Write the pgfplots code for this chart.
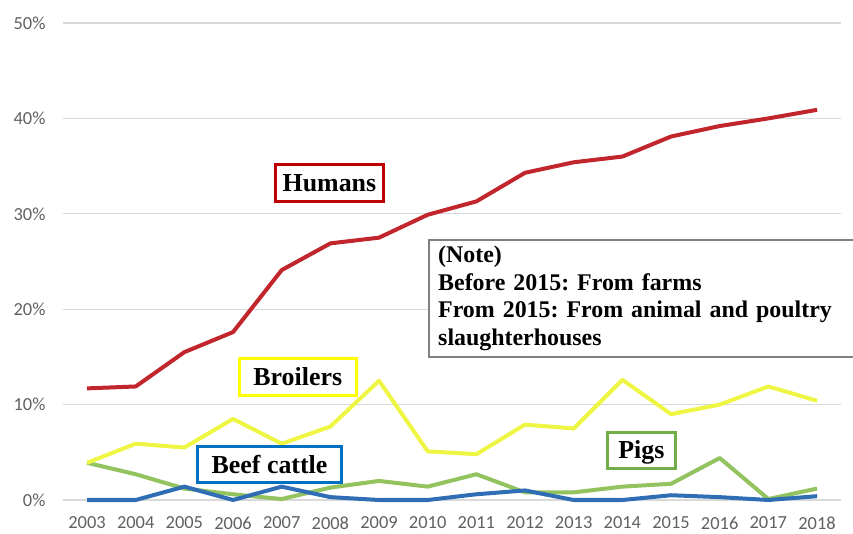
\documentclass[border=0pt]{standalone}
\usepackage{fontspec}
\setmainfont{Liberation Serif}
\newfontfamily\calibri{Carlito}
\usepackage{pgfplots}
\pgfplotsset{compat=1.18}
\definecolor{cHum}{HTML}{C0262B}
\definecolor{cBro}{HTML}{EEF542}
\definecolor{cPig}{HTML}{92C35F}
\definecolor{cBeef}{HTML}{2F6EB5}
\definecolor{bHum}{HTML}{C00000}
\definecolor{bBro}{HTML}{FFFF00}
\definecolor{bBeef}{HTML}{0070C0}
\definecolor{bPig}{HTML}{70AD47}
\definecolor{bNote}{HTML}{808080}
\definecolor{gridc}{HTML}{D9D9D9}
\definecolor{tickc}{HTML}{606060}
\frenchspacing
\begin{document}
\begin{tikzpicture}
\useasboundingbox (-62.7bp,-34bp) rectangle (790.3bp,500bp);
\begin{axis}[
  at={(0,0)}, anchor=south west,
  scale only axis, width=778.7bp, height=477bp,
  xmin=2002.5, xmax=2018.5, ymin=0, ymax=50,
  xtick={2003,2004,...,2018},
  xticklabels={2003,2004,2005,2006,2007,2008,2009,2010,2011,2012,2013,2014,2015,2016,2017,2018},
  ytick={0,10,20,30,40,50},
  yticklabels={0\%,10\%,20\%,30\%,40\%,50\%},
  /pgf/number format/assume math mode=true,
  ticklabel style={font=\calibri\fontsize{18.5}{20}\selectfont, text=tickc, inner sep=0pt},
  xticklabel style={anchor=center, yshift=-23bp},
  yticklabel style={anchor=east, xshift=-17bp},
  ymajorgrids, major grid style={draw=gridc, line width=1.2bp},
  axis line style={draw=none}, major tick style={draw=none},
  clip=false,
  every axis plot/.append style={line width=4bp, line join=round, mark=none},
]
\addplot[cPig] coordinates {(2003,3.9)(2004,2.7)(2005,1.2)(2006,0.6)(2007,0.1)(2008,1.3)(2009,2.0)(2010,1.4)(2011,2.7)(2012,0.8)(2013,0.8)(2014,1.4)(2015,1.7)(2016,4.4)(2017,0.1)(2018,1.2)};
\addplot[cBro] coordinates {(2003,3.9)(2004,5.9)(2005,5.5)(2006,8.5)(2007,5.9)(2008,7.7)(2009,12.5)(2010,5.1)(2011,4.8)(2012,7.9)(2013,7.5)(2014,12.6)(2015,9.0)(2016,10.0)(2017,11.9)(2018,10.4)};
\addplot[cBeef] coordinates {(2003,0)(2004,0)(2005,1.4)(2006,0)(2007,1.4)(2008,0.3)(2009,0)(2010,0)(2011,0.6)(2012,1.0)(2013,0)(2014,0)(2015,0.5)(2016,0.3)(2017,0)(2018,0.4)};
\addplot[cHum] coordinates {(2003,11.7)(2004,11.9)(2005,15.5)(2006,17.6)(2007,24.1)(2008,26.9)(2009,27.5)(2010,29.9)(2011,31.3)(2012,34.3)(2013,35.4)(2014,36.0)(2015,38.1)(2016,39.2)(2017,40.0)(2018,40.9)};
\tikzset{lab/.style={fill=white, line width=3bp, inner sep=0pt, text height=17bp, text depth=0bp, font=\bfseries\fontsize{26}{30}\selectfont}}
\node[lab, draw=bHum, minimum width=108bp, minimum height=37bp] at (axis cs:2007.98,33.23) {Humans};
\node[lab, draw=bBro, minimum width=117bp, minimum height=37bp] at (axis cs:2007.33,12.89) {Broilers};
\node[lab, draw=bBeef, minimum width=144bp, minimum height=36bp] at (axis cs:2006.75,3.72) {Beef cattle};
\node[lab, draw=bPig, minimum width=68bp, minimum height=36bp] at (axis cs:2014.39,5.19) {Pigs};
\node[fill=white, draw=bNote, line width=2bp, anchor=north west, text width=420bp, inner xsep=9bp, minimum height=117bp, align=left, font=\bfseries\fontsize{24}{27.7}\selectfont] at (axis cs:2010.01,27.36) {(Note)\\Before 2015: From farms\\From 2015: From animal and poultry\\slaughterhouses};
\end{axis}
\end{tikzpicture}
\end{document}
